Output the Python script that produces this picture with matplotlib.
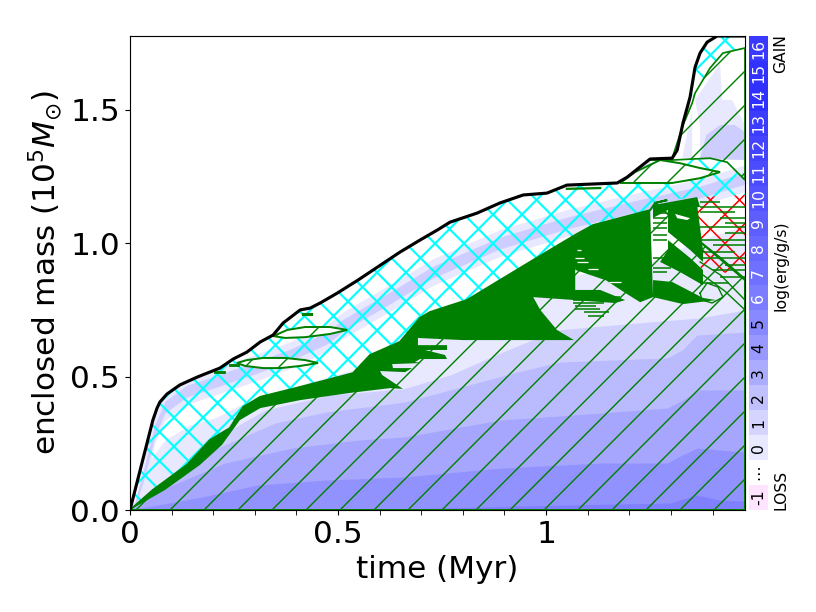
import matplotlib
matplotlib.use('Agg')
import matplotlib.pyplot as plt
import numpy as np
from matplotlib.collections import LineCollection
from matplotlib.patches import Polygon
from matplotlib.transforms import IdentityTransform

# total mass (time in Myr, enclosed mass in 1e5 Msun)
star_t = [0, .055, .065, .072, .089, .120, .161, .185, .216, .248, .281, .313, .344, .368, .409, .433, .457, .498, .548, .649, .697, .738, .769, .834, .889, .945, 1.002, 1.05, 1.171, 1.195, 1.25, 1.303, 1.315, 1.329, 1.346, 1.358, 1.370, 1.387, 1.411, 1.478]
star_m = [0, .337, .382, .405, .435, .469, .498, .513, .532, .566, .592, .630, .656, .701, .750, .757, .776, .813, .862, .967, 1.012, 1.049, 1.079, 1.113, 1.151, 1.181, 1.188, 1.218, 1.226, 1.248, 1.316, 1.319, 1.349, 1.451, 1.548, 1.660, 1.713, 1.754, 1.777, 1.777]

# base of the convective envelope
base_t = [0, .055, .137, .192, .240, .272, .313, .409, .536, .577, .649, .697, .721, .810, .969, 1.070, 1.113, 1.25, 1.262, 1.291, 1.363]
base_m = [0, .075, .169, .262, .307, .386, .424, .461, .513, .581, .630, .720, .742, .787, .937, 1.031, 1.068, 1.124, 1.151, 1.162, 1.173]

# underside of the main semiconvective zone, right to left
semi_low_t = [1.070, .969, .986, 1.026, 1.067, .800, .745, .692, .692, .762, .762, .709, .757, .762, .697, .685, .700, .630, .632, .678, .661, .601, .606, .656, .625, .529, .409, .313, .264, .221, .168, .084, 0]
semi_low_m = [.787, .798, .750, .675, .637, .637, .641, .645, .618, .618, .600, .600, .581, .566, .566, .555, .551, .547, .532, .532, .517, .521, .506, .454, .457, .439, .412, .382, .337, .244, .169, .075, 0]

semi_b_t = [1.065, 1.113, 1.25, 1.257, 1.226, 1.19, 1.144, 1.07]
semi_b_m = [1.023, 1.068, 1.124, .798, .779, .814, .861, .900]

top_block_t = [1.257, 1.363, 1.370, 1.293, 1.257]
top_block_m = [1.143, 1.173, 1.136, 1.125, 1.095]
g1_t = [1.293, 1.363, 1.377, 1.377, 1.346, 1.293]
g1_m = [1.143, 1.143, .975, .930, .975, 1.042]
g2_t = [1.293, 1.346, 1.377, 1.377, 1.322, 1.274, 1.293]
g2_m = [1.012, .945, .900, .843, .892, .930, .975]
g3_t = [1.257, 1.303, 1.377, 1.409, 1.329, 1.257]
g3_m = [.862, .855, .795, .787, .772, .798]
g5_t = [1.065, 1.130, 1.19, 1.166, 1.065]
g5_m = [.825, .825, .787, .776, .787]
slit_t = [1.310, 1.346, 1.339, 1.315]
slit_m = [1.110, 1.094, 1.087, 1.094]

# thin gaps left inside the zone
gap_start = [1.07, 1.075, 1.075, 1.10, 1.15]
gap_end = [1.09, 1.10, 1.085, 1.125, 1.18]
gap_m = [.945, .930, .975, .905, .855]

diag_t = [[1.365, 1.420, 1.478], [1.370, 1.420, 1.478], [1.377, 1.430, 1.478]]
diag_m = [[1.012, .945, .867], [.930, .880, .787], [.881, .820, .750]]

bar_start = [1.065, 1.065, 1.065, 1.07, 1.07, 1.09, 1.10, 1.257, 1.257, 1.257, 1.257, 1.257, 1.257, 1.257, 1.257, 1.257, 1.257, 1.37, 1.37, 1.37, 1.418, 1.43, 1.37, 1.43, 1.37, 1.40, 1.37, 1.37, 1.43, 1.40, 1.418, 1.37]
bar_end = [1.178, 1.16, 1.14, 1.12, 1.13, 1.15, 1.14, 1.29, 1.29, 1.29, 1.29, 1.29, 1.29, 1.29, 1.29, 1.30, 1.29, 1.418, 1.478, 1.454, 1.478, 1.478, 1.478, 1.478, 1.478, 1.478, 1.454, 1.478, 1.478, 1.478, 1.478, 1.44]
bar_m = [.798, .787, .776, .765, .753, .742, .727, 1.128, 1.113, 1.095, 1.076, 1.057, 1.031, 1.012, .945, .907, .892, 1.154, 1.136, 1.117, 1.094, 1.076, 1.061, 1.038, 1.012, .993, .967, .945, .918, .900, .873, .851]

ring_t = [1.370, 1.387, 1.413, 1.425, 1.399, 1.375, 1.370]
ring_m = [.813, .851, .836, .798, .776, .787, .813]

# radiative pockets
lens_t = [1.178, 1.25, 1.303, 1.370, 1.418, 1.370, 1.322, 1.274, 1.214]
lens_m = [1.226, 1.226, 1.226, 1.244, 1.267, 1.282, 1.300, 1.312, 1.267]
lens2_t = [.257, .281, .320, .373, .421, .452, .409, .361, .320, .277]
lens2_m = [.551, .562, .570, .570, .562, .551, .540, .532, .532, .540]
lens3_t = [.344, .378, .421, .481, .522, .481, .421, .373]
lens3_m = [.652, .675, .686, .686, .675, .660, .648, .645]
upper_t = [1.25, 1.303, 1.329, 1.351, 1.358, 1.394, 1.425, 1.478, 1.478, 1.435, 1.394, 1.303]
upper_m = [1.312, 1.319, 1.443, 1.525, 1.563, 1.657, 1.713, 1.732, 1.237, 1.304, 1.319, 1.312]

# upper convective shell
shell_t = [1.351, 1.358, 1.370, 1.387, 1.411, 1.478, 1.478, 1.425, 1.394, 1.358]
shell_m = [1.525, 1.660, 1.713, 1.754, 1.777, 1.777, 1.732, 1.713, 1.657, 1.563]

# right part of the envelope boundary, between the lens and the burning zone
env_top_t = [1.370, 1.418, 1.358, 1.298, 1.394, 1.435, 1.478, 1.478]
env_top_m = [1.244, 1.267, 1.286, 1.304, 1.319, 1.304, 1.237, 1.181]

red_t = [1.363, 1.478, 1.478, 1.423, 1.377, 1.358]
red_m = [1.173, 1.181, .881, .892, .881, .975]

# contours of log(erg/g/s) in the core
c1_t = [0, .072, .228, .325, .481, .656, .769, .889, 1.026, 1.25, 1.37, 1.478]
c1_m = [0, .094, .289, .375, .431, .454, .506, .588, .675, .705, .720, .750]
c2_t = [0, .188, .349, .469, .661, .930, 1.034, 1.291, 1.327, 1.363, 1.478]
c2_m = [0, .217, .326, .367, .405, .517, .555, .570, .600, .656, .667]
c3_t = [0, .091, .228, .389, .548, .661, .889, 1.065, 1.291, 1.327, 1.370, 1.478]
c3_m = [0, .086, .176, .232, .262, .274, .337, .356, .382, .412, .450, .450]
c4_t = [0, .173, .308, .469, .661, .889, 1.130, 1.291, 1.327, 1.363, 1.478]
c4_m = [0, .049, .094, .112, .124, .157, .176, .176, .206, .232, .217]
c5_t = [.5, .649, 1.05, 1.298, 1.327, 1.363, 1.418, 1.478]
c5_m = [0, .004, .019, .026, .041, .056, .037, .034]

pale_t = [0, .024, .048, .084, .144, .204, .264, .409, .536, .649, .810, .969, 1.070, 1.25, 1.37, 1.478]
pale_m = [0, .075, .187, .262, .319, .345, .393, .469, .525, .652, .787, .881, .881, .930, 1.012, 1.068]

# lavender streak in the envelope
streak_t = [.012, .036, .060, .084, .137, .216, .300, .385, .474, .512, .625, .728, .889, 1.050, 1.209, 1.370, 1.478]
dark_lo = [.010, .128, .278, .364, .424, .465, .510, .559, .623, .671, .773, .870, .979, 1.054, 1.114, 1.170, 1.222]
dark_hi = [.028, .172, .322, .408, .468, .509, .554, .603, .667, .715, .817, .914, 1.023, 1.098, 1.158, 1.214, 1.266]
wide_lo = [.005, .100, .250, .336, .396, .437, .482, .531, .595, .643, .745, .842, .951, 1.026, 1.086, 1.142, 1.194]
wide_hi = [.033, .200, .350, .436, .496, .537, .582, .631, .695, .743, .845, .942, 1.051, 1.126, 1.186, 1.242, 1.294]

patch_a_t = [1.327, 1.351, 1.351]
patch_a_m = [1.319, 1.499, 1.319]
patch_b_t = [1.358, 1.418, 1.423, 1.447, 1.478, 1.478, 1.370, 1.370]
patch_b_m = [1.537, 1.675, 1.537, 1.537, 1.443, 1.312, 1.312, 1.443]
patch_c_t = [1.370, 1.385, 1.418, 1.454, 1.478, 1.478]
patch_c_m = [1.319, 1.406, 1.443, 1.443, 1.417, 1.312]
patch_d_t = [1.195, 1.25, 1.25]
patch_d_m = [1.237, 1.312, 1.226]

cbar_labels = ['-1', '⋯', '0', '1', '2', '3', '4', '5', '6', '7', '8', '9', '10', '11', '12', '13', '14', '15', '16']
cbar_shade = [None, None, 232, 212, 192, 172, 152, 136, 124, 112, 104, 94, 84, 76, 68, 60, 48, 50, 58]
band_shades = [208, 186, 166, 146, 128]

PALE = (232/255, 232/255, 1)
MID = (205/255, 205/255, 1)
GREEN = 'green'


def shade(v):
    return (v/255, v/255, 1)


def hatched(ax, t, m, hatch, color, hatch_lw, face='none', lw=0.0, zorder=4):
    plt.rcParams['hatch.linewidth'] = hatch_lw
    ax.add_patch(Polygon(list(zip(t, m)), closed=True, facecolor=face, edgecolor=color,
                         hatch=hatch, linewidth=lw, zorder=zorder))


# cross lines in pixel space, the stock x hatch is too coarse here
def cross_lines(ax, t, m, color, lw, step=29, zorder=4):
    segs = []
    for c in np.arange(66.5 - 30*step, 900, step):
        segs.append([(c, 0), (c + 700, 700)])
    for c in np.arange(832.5 - 30*step, 1700, step):
        segs.append([(c, 0), (c - 700, 700)])
    lc = LineCollection(segs, colors=color, linewidths=lw, transform=IdentityTransform(), zorder=zorder)
    ax.add_collection(lc, autolim=False)
    lc.set_clip_path(Polygon(list(zip(t, m)), transform=ax.transData))


fig = plt.figure(figsize=(8, 6), dpi=102)
ax = fig.add_axes([130/816, 102/612, 615/816, 474/612])

# background shading, kept under the surface line
clip = Polygon(list(zip(star_t + [1.478], star_m + [0])), transform=ax.transData)
shades = [ax.fill_between(pale_t, 0, pale_m, color=PALE, lw=0, zorder=1),
          ax.fill_between(streak_t, wide_lo, wide_hi, color=PALE, lw=0, zorder=1),
          ax.fill_between(streak_t, dark_lo, dark_hi, color=MID, lw=0, zorder=1)]
for a in shades:
    a.set_clip_path(clip)
ax.fill(patch_a_t, patch_a_m, color=PALE, lw=0, zorder=1)
ax.fill(patch_b_t, patch_b_m, color=PALE, lw=0, zorder=1)
ax.fill(patch_c_t, patch_c_m, color=MID, lw=0, zorder=1)
ax.fill(patch_d_t, patch_d_m, color=PALE, lw=0, zorder=1)

ax.fill_between(c1_t, 0, c1_m, color=shade(band_shades[0]), lw=0, zorder=2)
ax.fill_between(c2_t, 0, c2_m, color=shade(band_shades[1]), lw=0, zorder=2)
ax.fill_between(c3_t, 0, c3_m, color=shade(band_shades[2]), lw=0, zorder=2)
ax.fill_between(c4_t, 0, c4_m, color=shade(band_shades[3]), lw=0, zorder=2)
ax.fill_between(c5_t, 0, c5_m, color=shade(band_shades[4]), lw=0, zorder=2)

# convective envelope
env_t = star_t[:29] + [1.25, 1.303] + env_top_t + [1.363] + base_t[::-1][1:]
env_m = star_m[:29] + [1.226, 1.226] + env_top_m + [1.173] + base_m[::-1][1:]
cross_lines(ax, env_t, env_m, 'cyan', 1.5)
cross_lines(ax, shell_t, shell_m, 'cyan', 1.5)
cross_lines(ax, red_t, red_m, 'red', 1.1)

# radiative zones
core_t = base_t[:-1] + [1.262, 1.365, 1.478, 1.478]
core_m = base_m[:-1] + [1.151, 1.012, .862, 0]
hatched(ax, core_t, core_m, '/', GREEN, 1.0, lw=1.4)
hatched(ax, upper_t, upper_m, '/', GREEN, 1.0, lw=1.2)
hatched(ax, lens_t, lens_m, '/', GREEN, 1.0, face='white', lw=1.4)
hatched(ax, lens2_t, lens2_m, '/', GREEN, 1.0, face='white', lw=1.4)
hatched(ax, lens3_t, lens3_m, '/', GREEN, 1.0, face='white', lw=1.4)

# semiconvection
ax.fill(base_t[:16] + semi_low_t, base_m[:16] + semi_low_m, color=GREEN, lw=0, zorder=5)
ax.fill(semi_b_t, semi_b_m, color=GREEN, lw=0, zorder=5)
for t, m in [(top_block_t, top_block_m), (g1_t, g1_m), (g2_t, g2_m), (g3_t, g3_m), (g5_t, g5_m)]:
    ax.fill(t, m, color=GREEN, lw=0, zorder=5)
ax.fill(slit_t, slit_m, color='white', lw=0, zorder=5.5)
ax.hlines(gap_m, gap_start, gap_end, color='white', lw=0.9, zorder=5.5)
for t, m in zip(diag_t, diag_m):
    ax.plot(t, m, color=GREEN, lw=1.0, zorder=5)
ax.hlines(bar_m, bar_start, bar_end, color=GREEN, lw=1.1, zorder=5)
ax.plot(ring_t, ring_m, color=GREEN, lw=1.0, zorder=5)
ax.plot([1.05, 1.13], [1.204, 1.207], color=GREEN, lw=1.6, zorder=5)
ax.plot([.415, .435], [.735, .735], color=GREEN, lw=2.2, zorder=5)
ax.plot([.205, .225], [.517, .517], color=GREEN, lw=2.0, zorder=5)
ax.plot([.24, .26], [.545, .545], color=GREEN, lw=2.0, zorder=5)

ax.plot(star_t, star_m, color='black', lw=2.2, zorder=6, solid_capstyle='butt')

ax.set_xlim(0, 1.478)
ax.set_ylim(0, 1.777)
ax.set_xticks([0, .5, 1])
ax.set_xticklabels(['0', '0.5', '1'])
ax.set_xticks([.1, .2, .3, .4, .6, .7, .8, .9, 1.1, 1.2, 1.3, 1.4], minor=True)
ax.set_yticks([0, .5, 1, 1.5])
ax.tick_params(axis='both', which='major', labelsize=22)
ax.tick_params(axis='x', which='minor', length=3.5)
ax.set_xlabel('time (Myr)', fontsize=22, labelpad=4)
ax.set_ylabel(r'enclosed mass ($10^5 M_{\odot}$)', fontsize=22, labelpad=4)
for s in ax.spines.values():
    s.set_zorder(7)

# colour key
cax = fig.add_axes([749/816, 102/612, 19/816, 474/612])
for i, lab in enumerate(cbar_labels):
    if lab == '-1':
        col = (1, 228/255, 1)
    elif cbar_shade[i] is None:
        col = 'white'
    else:
        col = shade(cbar_shade[i])
    cax.bar(0.5, 1, bottom=i, width=1, color=col, lw=0)
    tc = 'white' if cbar_shade[i] is not None and cbar_shade[i] < 130 else 'black'
    cax.text(0.5, i + 0.5, lab, color=tc, fontsize=11, rotation=90, ha='center', va='center')
cax.set_xlim(0, 1)
cax.set_ylim(0, len(cbar_labels))
cax.axis('off')

fig.text(781/816, 1 - 34/612, 'GAIN', fontsize=11, rotation=90, ha='center', va='top')
fig.text(781/816, 1 - 510/612, 'LOSS', fontsize=11, rotation=90, ha='center', va='bottom')
fig.text(781/816, 1 - 266/612, 'log(erg/g/s)', fontsize=11, rotation=90, ha='center', va='center')

fig.savefig('out.png', dpi=102)
